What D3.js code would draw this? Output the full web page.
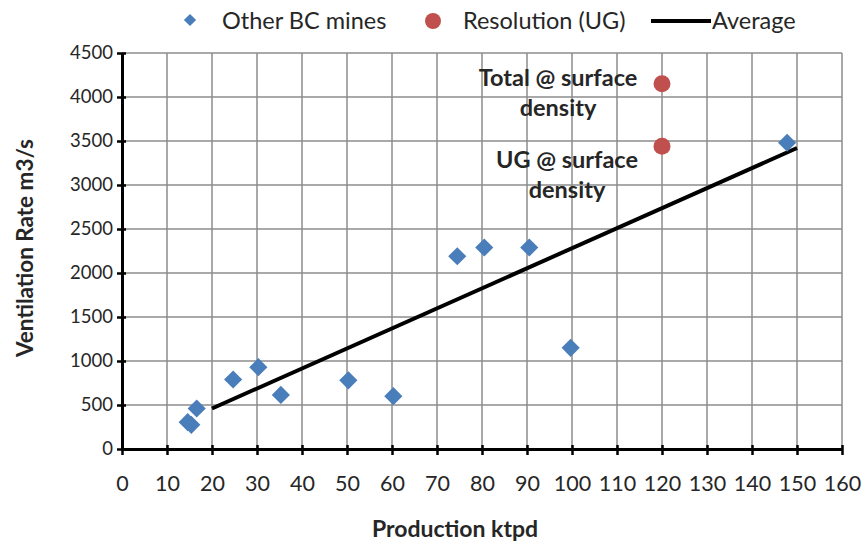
<!DOCTYPE html>
<html>
<head>
<meta charset="utf-8">
<script src="https://cdn.jsdelivr.net/npm/d3@7"></script>
<style>
  html, body { margin: 0; padding: 0; background: #fff; }
  svg { display: block; }
  text { font-family: Lato, "Open Sans", sans-serif; fill: #262626; }
</style>
</head>
<body>
<svg id="chart" width="867" height="544"></svg>
<script>
// Other BC mines: production (ktpd) vs ventilation rate (m3/s)
const mineProduction = [14.6, 15.4, 16.6, 24.7, 30.3, 35.3, 50.3, 60.3, 74.5, 80.5, 90.5, 99.7, 147.8];
const mineVentilation = [305, 275, 460, 790, 930, 615, 780, 600, 2190, 2290, 2290, 1150, 3480];

// Resolution (UG) estimates
const resolutionProduction = [120, 120];
const resolutionVentilation = [4150, 3440];
const resolutionLabels = [["Total @ surface", "density"], ["UG @ surface", "density"]];

// Average trend line end points
const averageProduction = [20, 150];
const averageVentilation = [460, 3420];

const xTicks = d3.range(0, 161, 10);
const yTicks = d3.range(0, 4501, 500);

const svg = d3.select("#chart");
const x = d3.scaleLinear().domain([0, 160]).range([122, 842]);
const y = d3.scaleLinear().domain([0, 4500]).range([449, 53]);

// grid
const grid = svg.append("g").attr("stroke", "#8c8c8c").attr("stroke-width", 1.5);
grid.selectAll(".gx").data(xTicks.slice(1)).join("line")
  .attr("x1", d => x(d)).attr("x2", d => x(d))
  .attr("y1", y(4500)).attr("y2", y(0));
grid.selectAll(".gy").data(yTicks.slice(1)).join("line")
  .attr("x1", x(0)).attr("x2", x(160))
  .attr("y1", d => y(d)).attr("y2", d => y(d));

// axes
const xAxis = svg.append("g").attr("transform", `translate(0,${y(0)})`)
  .call(d3.axisBottom(x).tickValues(xTicks).tickFormat(d3.format("d"))
    .tickSize(6).tickSizeOuter(0).tickPadding(21));
const yAxis = svg.append("g").attr("transform", `translate(${x(0)},0)`)
  .call(d3.axisLeft(y).tickValues(yTicks).tickFormat(d3.format("d"))
    .tickSize(6).tickSizeOuter(0).tickPadding(3));
[xAxis, yAxis].forEach(a => {
  a.select(".domain").attr("stroke", "#000").attr("stroke-width", 3);
  a.selectAll(".tick line").attr("stroke", "#000").attr("stroke-width", 2.5);
  a.selectAll(".tick text").attr("fill", "#262626")
    .style("font-family", "Lato, 'Open Sans', sans-serif");
});
xAxis.selectAll(".tick text").attr("font-size", 21.5);
yAxis.selectAll(".tick text").attr("font-size", 18.5);
xAxis.selectAll(".tick line").attr("y1", -4);
yAxis.selectAll(".tick line").attr("x1", 4).attr("x2", -5);

// axis titles
svg.append("text").attr("x", 455).attr("y", 537).attr("text-anchor", "middle")
  .attr("font-size", 23).attr("font-weight", "bold").text("Production ktpd");
svg.append("text").attr("transform", `translate(33,248) rotate(-90)`)
  .attr("text-anchor", "middle").attr("font-size", 22.5).attr("font-weight", "bold")
  .text("Ventilation Rate m3/s");

// average line
svg.append("line")
  .attr("x1", x(averageProduction[0])).attr("y1", y(averageVentilation[0]))
  .attr("x2", x(averageProduction[1])).attr("y2", y(averageVentilation[1]))
  .attr("stroke", "#000").attr("stroke-width", 4);

// mine diamonds
const diamond = d3.symbol().type(d3.symbolSquare).size(165);
svg.append("g").selectAll("path").data(mineProduction).join("path")
  .attr("d", diamond)
  .attr("transform", (d, i) => `translate(${x(d)},${y(mineVentilation[i])}) rotate(45)`)
  .attr("fill", "#4A7EBB");

// resolution circles
svg.append("g").selectAll("circle").data(resolutionProduction).join("circle")
  .attr("cx", d => x(d)).attr("cy", (d, i) => y(resolutionVentilation[i]))
  .attr("r", 8.5).attr("fill", "#C0504D");

// annotations beside the resolution points
const labelCentre = [558, 567];
const labelBaseline = [86, 168];
resolutionLabels.forEach((lines, i) => {
  const t = svg.append("text").attr("text-anchor", "middle").attr("font-size", 23.5)
    .attr("font-weight", "bold").attr("fill", "#1a1a1a");
  lines.forEach((s, j) => {
    t.append("tspan").attr("x", labelCentre[i]).attr("y", labelBaseline[i] + j * 30).text(s);
  });
});

// legend
const lg = svg.append("g");
lg.append("path").attr("d", d3.symbol().type(d3.symbolSquare).size(75))
  .attr("transform", "translate(190,20) rotate(45)").attr("fill", "#4A7EBB");
lg.append("text").attr("x", 222).attr("y", 29).attr("font-size", 23.5).text("Other BC mines");
lg.append("circle").attr("cx", 433).attr("cy", 21).attr("r", 8).attr("fill", "#C0504D");
lg.append("text").attr("x", 463).attr("y", 29).attr("font-size", 23.5).text("Resolution (UG)");
lg.append("line").attr("x1", 651).attr("x2", 711).attr("y1", 21).attr("y2", 21)
  .attr("stroke", "#000").attr("stroke-width", 4);
lg.append("text").attr("x", 712).attr("y", 29).attr("font-size", 23.5).text("Average");
</script>
</body>
</html>
